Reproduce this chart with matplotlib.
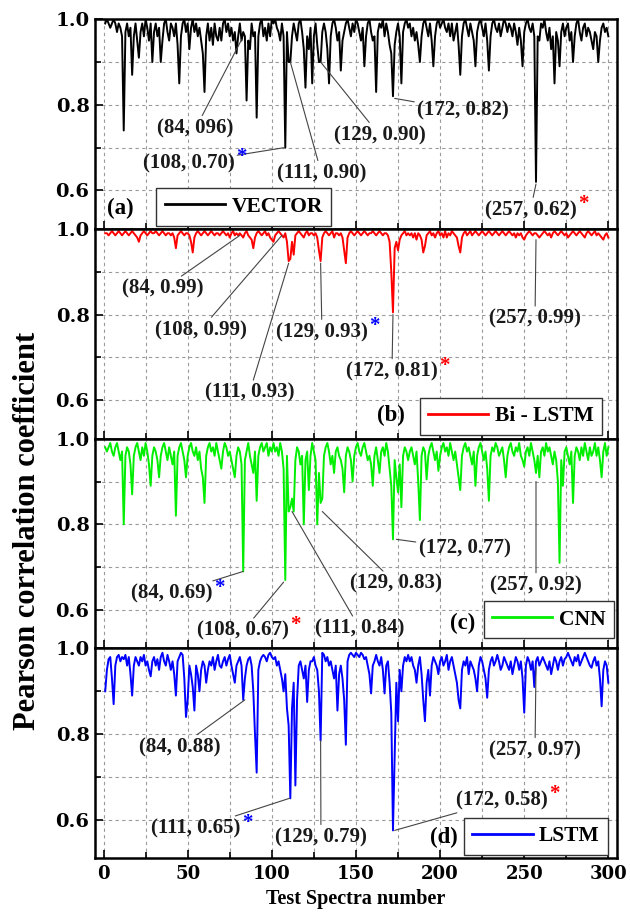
import numpy as np
import matplotlib.pyplot as plt
from matplotlib.text import Text
from matplotlib.ticker import MultipleLocator

# Pearson correlation (x100) for test spectra 1..300
vector = [
    99, 100, 99, 98, 99, 100, 99, 97, 99, 98,
    96, 74, 97, 99, 96, 98, 87, 96, 99, 95,
    91, 97, 99, 96, 100, 98, 95, 99, 90, 97,
    99, 96, 98, 90, 95, 99, 100, 97, 95, 99,
    98, 96, 99, 94, 85, 96, 99, 100, 97, 99,
    93, 98, 100, 97, 99, 96, 98, 95, 92, 83,
    96, 99, 95, 98, 94, 99, 96, 95, 98, 95,
    99, 100, 97, 99, 96, 98, 95, 97, 92, 96,
    99, 95, 97, 96, 81, 95, 93, 99, 96, 97,
    77, 96, 99, 100, 96, 98, 95, 99, 96, 100,
    99, 100, 98, 97, 95, 99, 96, 70, 97, 90,
    90, 96, 99, 97, 95, 99, 100, 97, 93, 84,
    96, 93, 98, 85, 96, 99, 94, 90, 90, 97,
    99, 97, 93, 85, 96, 99, 100, 98, 95, 97,
    88, 95, 97, 99, 100, 98, 96, 99, 97, 100,
    99, 97, 95, 98, 89, 96, 99, 100, 97, 95,
    96, 83, 97, 99, 98, 100, 96, 99, 97, 94,
    92, 82, 94, 97, 99, 96, 85, 97, 99, 100,
    98, 99, 96, 98, 95, 97, 94, 90, 96, 99,
    100, 98, 96, 99, 95, 89, 96, 99, 100, 98,
    99, 100, 98, 97, 99, 96, 99, 95, 97, 99,
    94, 87, 96, 99, 100, 98, 96, 99, 97, 95,
    89, 97, 99, 100, 98, 96, 99, 95, 88, 96,
    99, 100, 98, 97, 99, 96, 98, 100, 99, 97,
    99, 98, 96, 99, 97, 94, 98, 95, 89, 97,
    99, 100, 98, 97, 99, 96, 62, 96, 95, 99,
    98, 100, 97, 95, 98, 93, 96, 85, 97, 95,
    89, 97, 99, 96, 98, 99, 95, 97, 90, 96,
    99, 100, 97, 95, 98, 99, 96, 98, 97, 95,
    93, 97, 96, 90, 95, 98, 99, 97, 98, 96,
]

bi_lstm = [
    99, 99, 98.5, 99, 99.5, 99, 98.5, 99, 99.5, 99,
    98.5, 99, 99.5, 99, 98.5, 99, 99.5, 99, 98.5, 98,
    97, 98.5, 99, 99.5, 99, 98.5, 99, 99.5, 99, 99,
    99.5, 99, 98.5, 99, 99.5, 99, 98.5, 99, 99, 98.5,
    99, 98, 95.5, 98.5, 99, 99.5, 99, 98.5, 99, 99,
    98.5, 97, 94.5, 98, 99, 99.5, 99, 98.5, 99, 99.5,
    99, 98.5, 99, 99.5, 99, 98.5, 99, 99, 98.5, 99,
    99.5, 99, 98.5, 99, 98, 99, 99.5, 98.5, 99, 98.5,
    99, 98.5, 98, 99, 99.5, 98.5, 98, 97.5, 95.5, 98,
    99, 99.5, 99, 98.5, 99, 99.5, 98.5, 99, 98, 97.5,
    97, 98.5, 99, 99.5, 99, 98.5, 98, 99, 97, 92.5,
    93, 97, 94, 98.5, 99, 99.5, 99, 98.5, 98, 99,
    99.5, 98.5, 99, 99, 98.5, 99, 98, 95, 92.5, 98,
    99, 99.5, 99, 98.5, 99, 99.5, 98, 99, 99, 98.5,
    99, 98, 95, 92, 98, 99, 99.5, 99, 98.5, 99,
    99.5, 99, 98.5, 99, 99.5, 99, 98.5, 99, 99, 99.5,
    99, 98.5, 99, 99.5, 99, 98.5, 99, 99, 98.5, 97,
    90, 80.5, 95.5, 97, 95, 97.5, 98.5, 99, 99.5, 98.5,
    99, 98.5, 99, 98, 99, 97.5, 99, 98.5, 97.5, 94.5,
    96, 98.5, 99, 99.5, 98.5, 99, 98, 99, 99.5, 98.5,
    99, 98, 99.5, 98, 99, 98.5, 99.5, 99, 98.5, 98,
    96, 94.5, 98, 99, 99.5, 98.5, 99, 99.5, 98.5, 99,
    99.5, 99, 98.5, 99, 99.5, 99, 98.5, 99, 99.5, 99,
    98.5, 99, 99.5, 99, 98.5, 99, 99.5, 99, 98.5, 99,
    99.5, 99, 98.5, 99, 98, 99, 98.5, 99, 98, 97.5,
    98.5, 99, 99.5, 99, 98.5, 99, 99, 98.5, 98, 98.5,
    99, 99.5, 99, 98.5, 99, 98, 99, 99.5, 99, 98.5,
    99, 99.5, 99, 98.5, 99, 98, 98.5, 99, 99.5, 99,
    98.5, 99, 99.5, 99, 98.5, 98, 99, 99.5, 99, 98.5,
    99, 99.5, 98.5, 99, 98.5, 98, 97.5, 98.5, 99, 98,
]

cnn = [
    98, 97, 98, 99, 97, 96, 98, 99, 97, 95,
    97, 80, 96, 98, 97, 94, 87, 96, 98, 99,
    97, 95, 98, 96, 99, 97, 94, 89, 96, 98,
    97, 95, 91, 96, 98, 99, 97, 95, 98, 96,
    94, 97, 82, 96, 98, 99, 97, 95, 91, 96,
    98, 99, 97, 96, 98, 95, 97, 93, 91, 85,
    96, 98, 99, 97, 98, 96, 99, 97, 95, 93,
    97, 99, 98, 96, 97, 95, 93, 91, 96, 98,
    97, 94, 69, 95, 97, 99, 96, 94, 92, 97,
    85.5, 96, 98, 99, 97, 98, 99, 96, 98, 97,
    99, 97, 98, 96, 99, 97, 93, 67, 96, 83,
    84, 86, 83, 95, 98, 97, 94, 96, 80, 95,
    97, 88, 96, 99, 97, 95, 80, 92, 85, 86,
    96, 98, 99, 97, 94, 96, 92, 97, 98, 96,
    95, 93, 87.5, 96, 98, 97, 95, 90, 96, 98,
    99, 97, 96, 98, 99, 97, 95, 96, 94, 89,
    96, 98, 95, 92, 97, 98, 96, 99, 97, 93,
    89, 76.5, 95, 91, 87.5, 94, 84, 96, 98, 97,
    95, 97, 98, 96, 94, 97, 90, 81, 96, 98,
    97, 90.5, 96, 98, 99, 97, 95, 97, 92.5, 96,
    98, 99, 97, 98, 96, 99, 97, 95, 97, 94,
    91, 88, 96, 98, 99, 97, 98, 96, 94, 97,
    89, 96, 98, 99, 97, 95, 97, 93, 85.5, 96,
    98, 97, 99, 98, 96, 97, 98, 95, 91, 96,
    98, 99, 97, 96, 98, 97, 99, 96, 95, 93.5,
    97, 98, 96, 99, 97, 95, 92, 96, 91, 97,
    98, 96, 99, 97, 98, 96, 94, 97, 95, 90,
    71, 95, 89, 97, 98, 96, 94, 97, 85, 96,
    98, 97, 95, 98, 96, 99, 97, 95, 98, 96,
    97, 99, 96, 98, 95, 91, 97, 99, 96, 98,
]

lstm = [
    90, 95, 97.5, 98, 93, 87, 96, 98, 98.5, 97,
    98, 97.5, 98.5, 96, 98, 94, 89, 96, 98, 97,
    96, 98, 97, 98.5, 96, 97, 95, 93.5, 97, 98,
    96, 97.5, 95, 98, 99, 97, 96, 98.5, 97, 95,
    97, 94, 89, 97, 98, 99, 98.5, 93, 84, 88,
    96, 94, 91, 85.5, 96, 94, 90, 95, 97, 96,
    92, 95, 97, 96, 98, 95, 97, 98.5, 96, 95.5,
    97, 98, 96, 97.5, 98.5, 96, 94, 92, 96, 97,
    98, 96, 88, 93, 96, 97.5, 98, 96, 90, 80,
    71, 95, 97, 98, 98.5, 98, 97, 98.5, 99, 98,
    97.5, 98, 96, 97, 95, 93, 90, 94, 86, 82,
    65, 86, 92, 68, 88, 96, 97, 95, 93, 96,
    87.5, 95, 97, 97, 98, 96, 95, 90, 78.5, 99,
    98.5, 97, 98, 96, 97, 95, 93, 96, 85.5, 94,
    96, 93, 88, 77.5, 97, 98.5, 99, 98.5, 98, 99,
    98.5, 98, 99, 98.5, 97.5, 98, 96, 94, 89.5, 96,
    97, 98.5, 97, 96, 98, 95, 89.5, 96, 97, 92,
    85, 57.5, 74.5, 92, 83, 95, 90, 96, 98, 97,
    98.5, 97, 98, 96, 95, 92, 96, 98, 94, 88,
    83, 92, 95, 89, 96, 98, 97, 96, 94, 97,
    98, 96, 97, 98.5, 95, 97, 98, 96, 94, 92,
    88, 86, 95, 97, 96, 98, 94, 97, 96, 95,
    93, 90, 96, 98, 97, 95, 93, 88.5, 95, 97,
    98, 96, 97, 98.5, 97, 95, 96, 98, 97, 96,
    95, 97, 94, 96, 98, 97, 95, 97, 93, 85,
    96, 98, 97, 95, 97, 91, 97, 98, 96, 97,
    98, 97, 96, 95, 97, 94, 96, 98, 97, 95,
    97, 98, 96, 97.5, 98, 99, 98, 97, 96, 98,
    97, 98.5, 96, 97, 98, 99, 98, 97, 96, 95.5,
    97, 98, 96, 97, 93, 86.5, 95, 97, 96, 92,
]

spectra = np.arange(1, 301)

# (label, point, text position, star colour)
vector_notes = [
    ("(84, 096)", (82, 0.952), (54.7, 0.745), None),
    ("(108, 0.70)", (107.5, 0.70), (50.5, 0.664), "blue"),
    ("(111, 0.90)", (111, 0.90), (129.5, 0.640), None),
    ("(129, 0.90)", (129, 0.90), (164, 0.729), None),
    ("(172, 0.82)", (173, 0.815), (213.6, 0.787), None),
    ("(257, 0.62)", (257, 0.615), (253.7, 0.554), "red"),
]
bi_lstm_notes = [
    ("(84, 0.99)", (81, 0.985), (35.4, 0.86), None),
    ("(108, 0.99)", (106, 0.985), (57.6, 0.764), None),
    ("(111, 0.93)", (110, 0.92), (86.7, 0.617), None),
    ("(129, 0.93)", (129, 0.92), (129.8, 0.759), "blue"),
    ("(172, 0.81)", (172, 0.80), (171.4, 0.667), "red"),
    ("(257, 0.99)", (257, 0.975), (256.4, 0.79), None),
]
cnn_notes = [
    ("(84, 0.69)", (83, 0.69), (40.7, 0.638), "blue"),
    ("(108, 0.67)", (107, 0.665), (82.9, 0.551), "red"),
    ("(111, 0.84)", (112, 0.83), (152.4, 0.556), None),
    ("(129, 0.83)", (130, 0.83), (173.8, 0.661), None),
    ("(172, 0.77)", (174, 0.765), (214.5, 0.743), None),
    ("(257, 0.92)", (257, 0.90), (257, 0.657), None),
]
lstm_notes = [
    ("(84, 0.88)", (84, 0.88), (45.2, 0.769), None),
    ("(111, 0.65)", (110.5, 0.65), (55, 0.579), "blue"),
    ("(129, 0.79)", (129, 0.785), (129.2, 0.559), None),
    ("(172, 0.58)", (173, 0.575), (236.8, 0.646), "red"),
    ("(257, 0.97)", (257, 0.955), (256.4, 0.762), None),
]

panels = [
    ("(a)", "VECTOR", vector, "black", vector_notes, (0.285, 0.105), (0.048, 0.10)),
    ("(b)", "Bi - LSTM", bi_lstm, "red", bi_lstm_notes, (0.797, 0.107), (0.567, 0.11)),
    ("(c)", "CNN", cnn, "#00ee00", cnn_notes, (0.870, 0.138), (0.704, 0.12)),
    ("(d)", "LSTM", lstm, "blue", lstm_notes, (0.845, 0.105), (0.669, 0.10)),
]

serif = ["Liberation Serif", "DejaVu Serif"]
tickfont = ["DejaVu Serif"]

fig, axes = plt.subplots(4, 1, figsize=(6.3, 9.14), dpi=100, sharex=True)
fig.subplots_adjust(left=0.151, right=0.979, top=0.979, bottom=0.061, hspace=0)

for ax, (tag, name, vals, color, notes, leg_pos, tag_pos) in zip(axes, panels):
    ax.plot(spectra, np.array(vals) / 100, color=color, lw=1.4, label=name)
    ax.set_xlim(-5, 305)
    ax.set_ylim(0.51, 1.0)
    ax.set_yticks([0.6, 0.8, 1.0])
    ax.yaxis.set_minor_locator(MultipleLocator(0.1))
    ax.xaxis.set_major_locator(MultipleLocator(50))
    ax.xaxis.set_minor_locator(MultipleLocator(25))
    ax.grid(True, which="both", color="#9a9a9a", ls=(0, (3, 3)), lw=0.8)
    ax.set_axisbelow(True)
    ax.tick_params(which="both", direction="in", width=1.2, top=False, right=False)
    ax.tick_params(which="major", length=6)
    ax.tick_params(which="minor", length=4)
    ax.tick_params(axis="y", pad=4)
    for lab in ax.get_yticklabels():
        lab.set_fontfamily(tickfont)
        lab.set_fontweight("bold")
        lab.set_fontsize(14)
    for sp in ax.spines.values():
        sp.set_linewidth(1.8)

    leg = ax.legend(loc="center", bbox_to_anchor=leg_pos, fancybox=False,
                    edgecolor="#333333", framealpha=1, handlelength=2.8,
                    handletextpad=0.3, borderpad=0.4,
                    prop={"family": serif, "weight": "bold", "size": 15.5})
    leg.get_frame().set_linewidth(1.0)
    for ln in leg.get_lines():
        ln.set_linewidth(2)

    ax.text(tag_pos[0], tag_pos[1], tag, transform=ax.transAxes, ha="center",
            va="center", fontsize=16.5, fontweight="bold", family=serif)

    for label, pt, txt, star in notes:
        t = ax.annotate(label, xy=pt, xytext=txt, ha="center", va="center",
                        fontsize=15, fontweight="bold", family=serif,
                        color="#1a1a1a",
                        arrowprops=dict(arrowstyle="-", color="#444444", lw=0.8,
                                        shrinkA=0, shrinkB=0))
        if star:
            # attach to the text box only, not the leader line
            ax.annotate("*", xy=(1.0, 0.8),
                        xycoords=lambda r, t=t: Text.get_window_extent(t, r),
                        xytext=(1, 0), textcoords="offset points",
                        ha="left", va="center", fontsize=15,
                        fontweight="bold", family=serif, color=star)

bottom = axes[-1]
for lab in bottom.get_xticklabels():
    lab.set_fontfamily(tickfont)
    lab.set_fontweight("bold")
    lab.set_fontsize(13)
bottom.tick_params(axis="x", pad=5)
bottom.set_xlabel("Test Spectra number", fontsize=14.5, fontweight="bold",
                  family=serif, labelpad=4)

fig.text(0.043, 0.419, "Pearson correlation coefficient", rotation=90,
         ha="center", va="center", fontsize=22, fontweight="bold", family=serif)

fig.savefig("out.png", dpi=100)
